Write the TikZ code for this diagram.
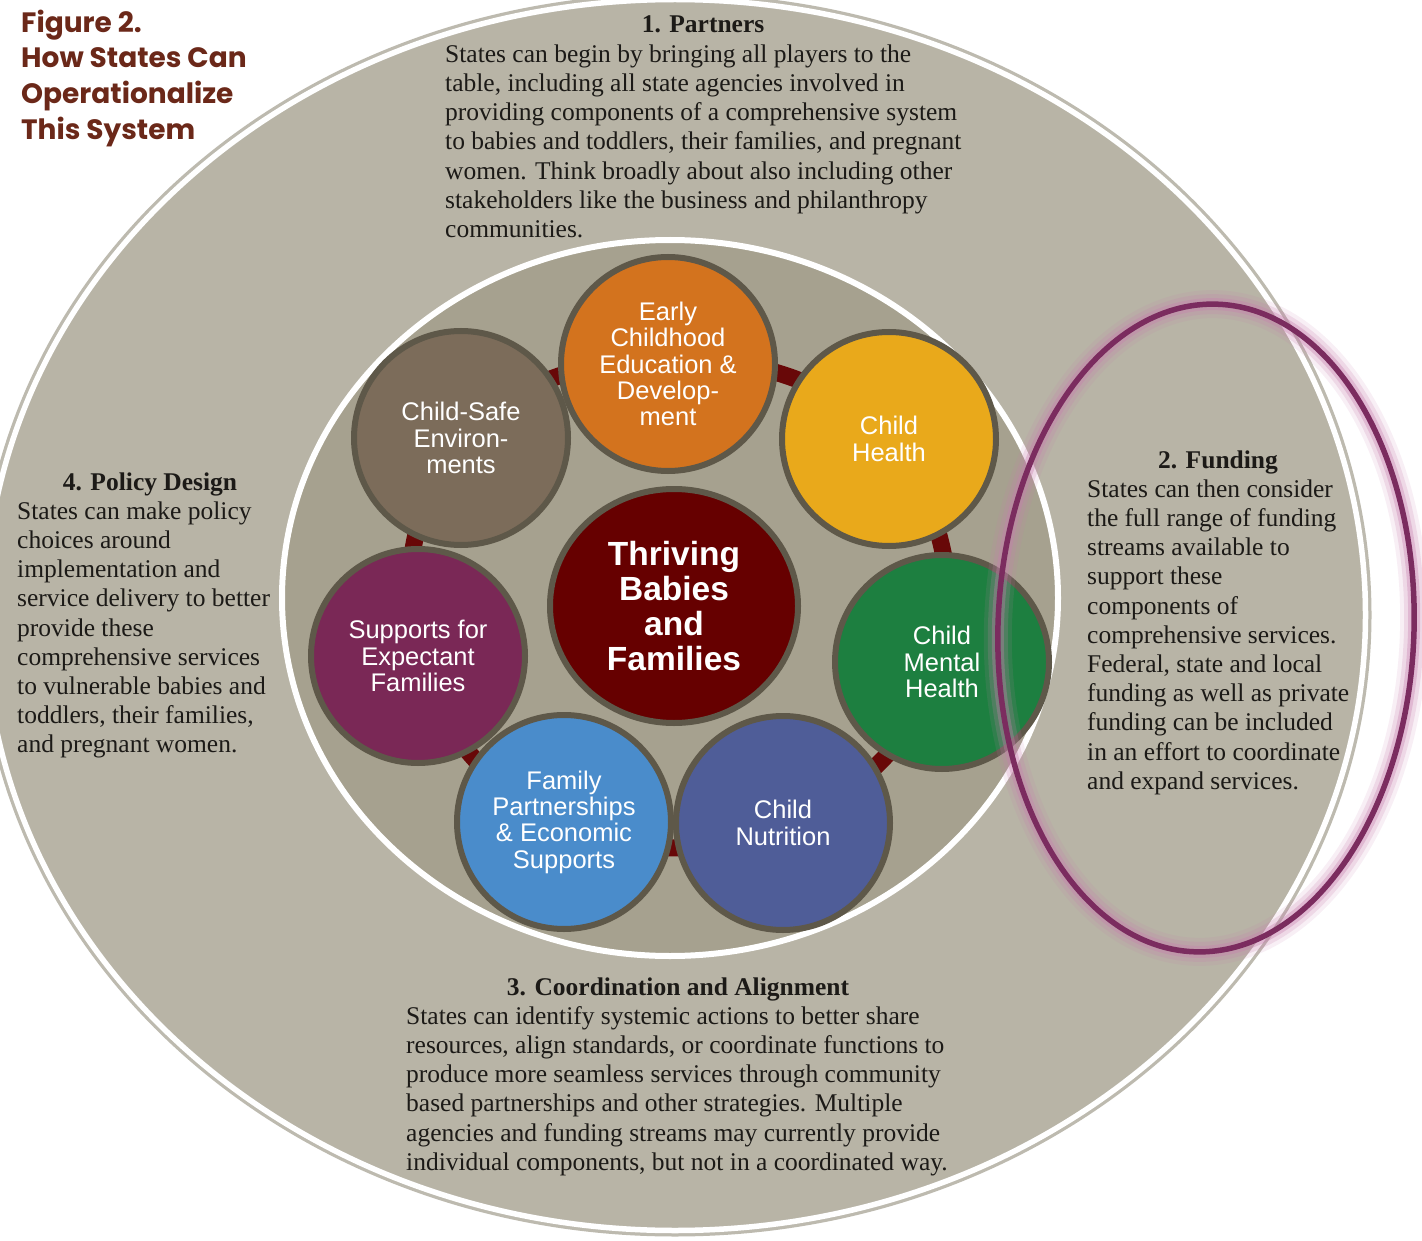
\documentclass[tikz,border=0pt]{standalone}
\usepackage{fontspec}
\setmainfont{Liberation Serif}
\newfontfamily\sansf{Liberation Sans}
\newfontfamily\titlefont{Poppins}
\usetikzlibrary{shapes.geometric}
\pgfdeclarelayer{bg}
\pgfdeclarelayer{links}
\pgfsetlayers{bg,links,main}
\definecolor{outerfill}{HTML}{B8B4A6}
\definecolor{innerfill}{HTML}{A6A18F}
\definecolor{shadowc}{HTML}{BDBAAF}
\definecolor{rimc}{HTML}{5E5849}
\definecolor{linkc}{HTML}{680808}
\definecolor{cOrange}{HTML}{D3731E}
\definecolor{cYellow}{HTML}{E9A91B}
\definecolor{cGreen}{HTML}{1D7F40}
\definecolor{cSlate}{HTML}{4F5D98}
\definecolor{cBlue}{HTML}{4A8CCB}
\definecolor{cPurple}{HTML}{7A2856}
\definecolor{cTaupe}{HTML}{7C6C5A}
\definecolor{cMaroon}{HTML}{660000}
\definecolor{titlec}{RGB}{107,40,25}
\definecolor{txt}{HTML}{1C1A17}
\definecolor{plum}{HTML}{7B2C5F}
\definecolor{glowc}{HTML}{C77FAE}
\begin{document}
\begin{tikzpicture}[x=1pt,y=-1pt,
  comp/.style={circle, minimum size=214pt, inner sep=0pt, draw=rimc, line width=6pt,
    text=white, align=center, font=\sansf\fontsize{25.5}{26.3}\selectfont},
  hubstyle/.style={ellipse, minimum width=248pt, minimum height=234pt, inner sep=0pt,
    draw=rimc, line width=6pt, fill=cMaroon, text=white, align=center,
    font=\sansf\bfseries\fontsize{33.5}{35.3}\selectfont},
  body/.style={anchor=north west, inner sep=0pt, align=left, text=txt,
    font=\fontsize{25.5}{29.2}\selectfont},
  head/.style={anchor=base, inner sep=0pt, text=txt,
    font=\bfseries\fontsize{25.5}{29.2}\selectfont},
  link/.style={draw=linkc, line width=17pt},
  arcbend/.style={bend left=26, looseness=0.9},
]
\useasboundingbox (0,0) rectangle (1422,1241);

\begin{pgfonlayer}{bg}
  \fill[white] (0,0) rectangle (1422,1241);
  \draw[shadowc, line width=9pt, fill=outerfill] (675,615) ellipse (692pt and 617pt);
  \draw[white, line width=5.5pt] (675,615) ellipse (690.5pt and 615.5pt);
  \fill[innerfill] (670,598) ellipse (388pt and 358pt);
  \draw[white, line width=6pt] (670,598) ellipse (388pt and 358pt);
\end{pgfonlayer}

% title
\node[anchor=north west, inner sep=0pt, align=left, text=titlec,
  font=\titlefont\bfseries\fontsize{28}{35.8}\selectfont] (title) at (21,6.9)
  {\strut Figure 2.\\How States Can\\Operationalize\\This System};

% component circles
\node[comp, fill=cOrange] (early) at (668,364) {Early\\Childhood\\Education \&\\Develop-\\ment};
\node[comp, fill=cYellow] (health) at (889,439) {Child\\Health};
\node[comp, fill=cGreen] (mental) at (942,662) {Child\\Mental\\Health};
\node[comp, fill=cSlate] (nutri) at (783,823) {Child\\Nutrition};
\node[comp, fill=cBlue] (family) at (564,822) {Family\\Partnerships\\\& Economic\\Supports};
\node[comp, fill=cPurple] (expect) at (418,656) {Supports for\\Expectant\\Families};
\node[comp, fill=cTaupe] (safe) at (461,438) {Child-Safe\\Environ-\\ments};
\node[hubstyle] (hub) at (674,606) {Thriving\\Babies\\and\\Families};

\begin{pgfonlayer}{links}
  \draw[link] (early.center) to[arcbend] (health.center);
  \draw[link] (health.center) to[arcbend] (mental.center);
  \draw[link] (mental.center) to[arcbend] (nutri.center);
  \draw[link] (nutri.center) to[arcbend] (family.center);
  \draw[link] (family.center) to[arcbend] (expect.center);
  \draw[link] (expect.center) to[arcbend] (safe.center);
  \draw[link] (safe.center) to[arcbend] (early.center);
\end{pgfonlayer}

% texts
\node[head] (h1) at (703,33) {1. Partners};
\node[body] (b1) at (445,41.6) {\strut States can begin by bringing all players to the\\
table, including all state agencies involved in\\
providing components of a comprehensive system\\
to babies and toddlers, their families, and pregnant\\
women. Think broadly about also including other\\
stakeholders like the business and philanthropy\\
communities.};

\node[head] (h2) at (1218,468) {2. Funding};
\node[body] (b2) at (1087,476.6) {\strut States can then consider\\
the full range of funding\\
streams available to\\
support these\\
components of\\
comprehensive services.\\
Federal, state and local\\
funding as well as private\\
funding can be included\\
in an effort to coordinate\\
and expand services.};

\node[head] (h3) at (678,995) {3. Coordination and Alignment};
\node[body] (b3) at (406,1003.6) {\strut States can identify systemic actions to better share\\
resources, align standards, or coordinate functions to\\
produce more seamless services through community\\
based partnerships and other strategies. Multiple\\
agencies and funding streams may currently provide\\
individual components, but not in a coordinated way.};

\node[head] (h4) at (150,490) {4. Policy Design};
\node[body] (b4) at (17,498.6) {\strut States can make policy\\
choices around\\
implementation and\\
service delivery to better\\
provide these\\
comprehensive services\\
to vulnerable babies and\\
toddlers, their families,\\
and pregnant women.};

% highlight ellipse around Funding
\begin{scope}[shift={(1206,628)}, rotate=-2]
  \draw[glowc, line width=28pt, opacity=0.12] (0,0) ellipse (208pt and 324pt);
  \draw[glowc, line width=20pt, opacity=0.2] (0,0) ellipse (208pt and 324pt);
  \draw[glowc, line width=12pt, opacity=0.35] (0,0) ellipse (208pt and 324pt);
  \draw[plum, line width=5.5pt] (0,0) ellipse (208pt and 324pt);
\end{scope}
\end{tikzpicture}
\end{document}
